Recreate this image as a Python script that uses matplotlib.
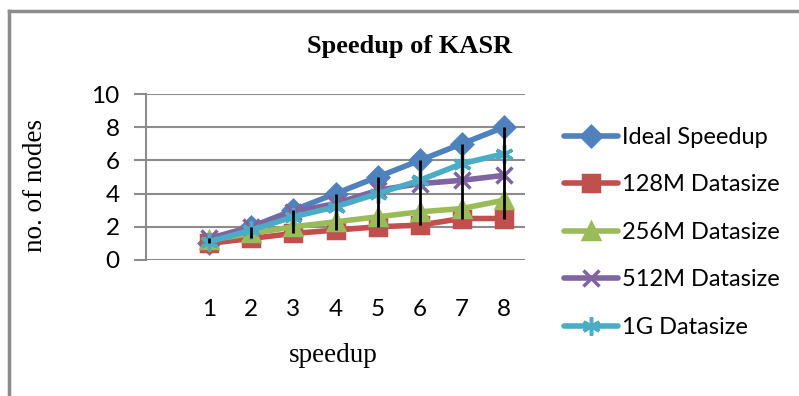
import numpy as np
import matplotlib.pyplot as plt
from matplotlib.lines import Line2D

# x categories (first slot left blank, as in the original sheet)
nodes = [1, 2, 3, 4, 5, 6, 7, 8]
ideal = [1, 2, 3, 4, 5, 6, 7, 8]
d128m = [1.0, 1.3, 1.6, 1.8, 2.0, 2.1, 2.5, 2.5]
d256m = [1.2, 1.6, 2.0, 2.3, 2.6, 2.9, 3.1, 3.6]
d512m = [1.3, 2.0, 2.9, 3.4, 4.2, 4.6, 4.8, 5.1]
d1g = [1.1, 1.8, 2.6, 3.2, 4.0, 4.8, 5.8, 6.4]

names = ['Ideal Speedup', '128M Datasize', '256M Datasize', '512M Datasize', '1G Datasize']
colors = ['#4F81BD', '#C0504D', '#9BBB59', '#8064A2', '#4BACC6']
markers = ['D', 's', '^', 'x', (6, 2, 0)]
msizes = [10, 11, 11, 12, 13]

sans = ['Lato', 'DejaVu Sans']
serif = ['Liberation Serif', 'DejaVu Serif']

fig = plt.figure(figsize=(7.99, 3.96), dpi=100)
ax = fig.add_axes([146 / 799, 1 - 260 / 396, 379 / 799, 166 / 396])

series = [ideal, d128m, d256m, d512m, d1g]
for vals, name, c, m, ms in zip(series, names, colors, markers, msizes):
    ax.plot(nodes, vals, color=c, lw=4, marker=m, ms=ms, mew=2.5,
            label=name, solid_capstyle='round', zorder=3)

# high-low lines
arr = np.array(series)
ax.vlines(nodes, arr.min(axis=0), arr.max(axis=0), color='black', lw=2, zorder=4)

ax.set_xlim(-0.5, 8.5)
ax.set_ylim(0, 10)
ax.set_yticks(range(0, 11, 2))
ax.set_xticks(nodes)
ax.grid(axis='y', color='#8c8c8c', lw=1.5)
ax.set_axisbelow(True)
for s in ['top', 'right', 'bottom']:
    ax.spines[s].set_visible(False)
ax.spines['left'].set_color('#8c8c8c')
ax.spines['left'].set_linewidth(1.5)
ax.tick_params(axis='y', length=9, width=1.5, color='#8c8c8c', pad=10)
ax.tick_params(axis='x', length=0, pad=28)
for lab in ax.get_xticklabels() + ax.get_yticklabels():
    lab.set_family(sans)
    lab.set_fontsize(17.5)

fig.text(410 / 799, 1 - 46 / 396, 'Speedup of KASR', ha='center', va='center',
         family=serif, fontsize=19, fontweight='bold')
fig.text(35 / 799, 1 - 185 / 396, 'no. of nodes', ha='center', va='center',
         rotation=90, family=serif, fontsize=19.5)
fig.text(333 / 799, 1 - 355 / 396, 'speedup', ha='center', va='center',
         family=serif, fontsize=19.5)

leg = ax.legend(loc='upper left', bbox_to_anchor=(564 / 799, 1 - 127 / 396),
                bbox_transform=fig.transFigure, frameon=False,
                prop={'family': sans, 'size': 17}, handlelength=2.3,
                labelspacing=1.12, handletextpad=0.15, borderpad=0, borderaxespad=0)

# chart border (only top and left visible in the crop)
fig.add_artist(Line2D([9 / 799, 9 / 799], [0, 1 - 11 / 396], transform=fig.transFigure,
                      color='#8c8c8c', lw=2.5))
fig.add_artist(Line2D([9 / 799, 1], [1 - 11 / 396, 1 - 11 / 396], transform=fig.transFigure,
                      color='#8c8c8c', lw=2.5))

fig.savefig('out.png', dpi=100)
